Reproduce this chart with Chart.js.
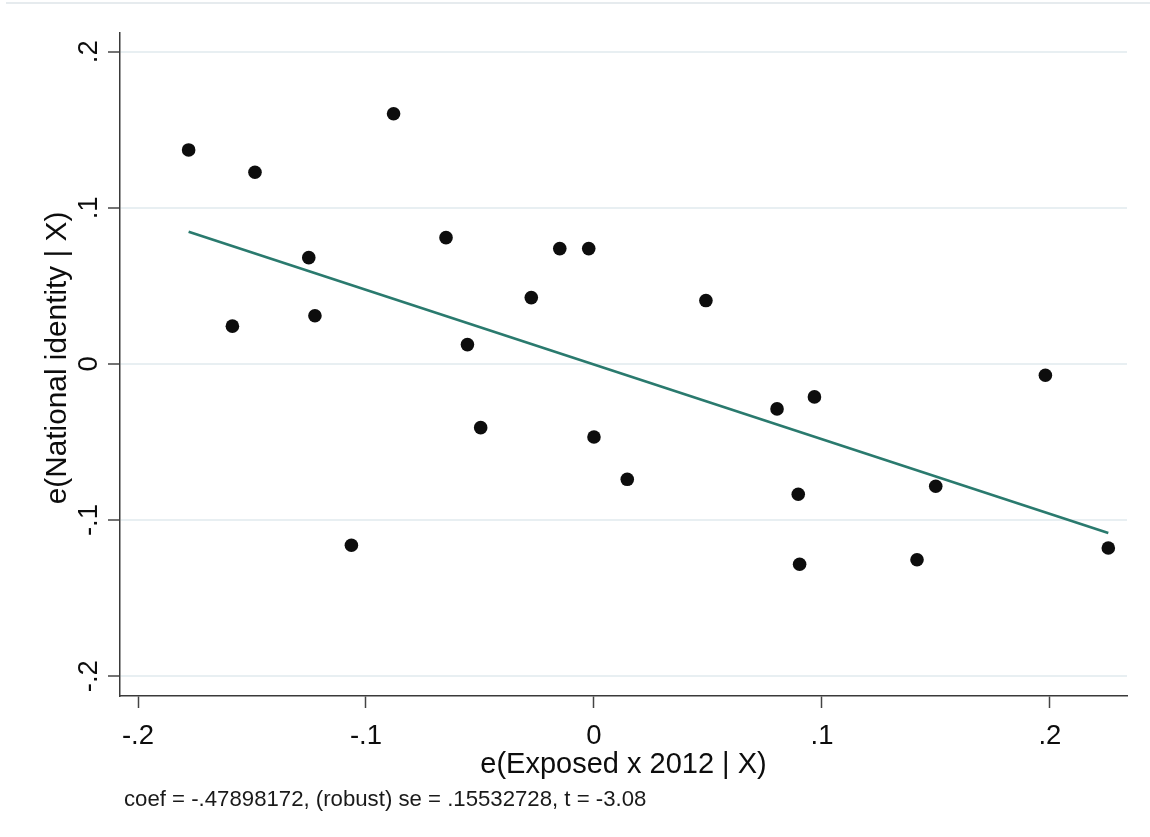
<!DOCTYPE html>
<html>
<head>
<meta charset="utf-8">
<script src="https://cdn.jsdelivr.net/npm/chart.js@4.4.1/dist/chart.umd.min.js"></script>
<style>
  html, body { margin: 0; padding: 0; background: #fff; }
  #wrap { width: 1150px; height: 837px; position: relative; }
</style>
</head>
<body>
<div id="wrap"><canvas id="avplot" width="1150" height="837"></canvas></div>
<script>
// DATA

const exposedResid = [-0.1778, -0.1586, -0.1487, -0.1251, -0.1224, -0.1064, -0.0879, -0.0649,
	-0.0555, -0.0497, -0.0275, -0.0150, -0.0023, 0.0000, 0.0146, 0.0491,
	0.0803, 0.0896, 0.0902, 0.0967, 0.1417, 0.1499, 0.1980, 0.2256];
const identityResid = [0.1371, 0.0242, 0.1228, 0.0681, 0.0309, -0.1161, 0.1603, 0.0809,
	0.0124, -0.0408, 0.0425, 0.0739, 0.0739, -0.0468, -0.0739, 0.0406,
	-0.0288, -0.0835, -0.1283, -0.0211, -0.1254, -0.0783, -0.0072, -0.1179];

// fitted line end points
const fitX = [-0.1778, 0.2256];
const fitY = [0.0847, -0.1083];

const xTicks = [-0.2, -0.1, 0, 0.1, 0.2];
const xTickLabels = ['-.2', '-.1', '0', '.1', '.2'];
const yTicks = [-0.2, -0.1, 0, 0.1, 0.2];
const yTickLabels = ['-.2', '-.1', '0', '.1', '.2'];

const xTitle = 'e(Exposed x 2012 | X)';
const yTitle = 'e(National identity | X)';
const noteText = 'coef = -.47898172, (robust) se = .15532728, t = -3.08';

//==================================
// TEXT DRAWN AROUND THE PLOT
//==================================

const FONT = '"Liberation Sans", Arial, sans-serif';

const stataText = {
	id: 'stataText',
	afterDraw(chart) {
		const ctx = chart.ctx;
		const xs = chart.scales.x;
		const ys = chart.scales.y;
		const area = chart.chartArea;

		ctx.save();

		// faint rule at the very top (page edge)
		ctx.strokeStyle = '#e6ebee';
		ctx.lineWidth = 2;
		ctx.beginPath();
		ctx.moveTo(6, 3);
		ctx.lineTo(1150, 3);
		ctx.stroke();

		ctx.fillStyle = '#0d0d0d';

		// x tick labels
		ctx.font = '27.5px ' + FONT;
		ctx.textAlign = 'center';
		ctx.textBaseline = 'alphabetic';
		xTicks.forEach((v, i) => {
			ctx.fillText(xTickLabels[i], xs.getPixelForValue(v), 744);
		});

		// y tick labels, rotated
		yTicks.forEach((v, i) => {
			ctx.save();
			ctx.translate(97, ys.getPixelForValue(v));
			ctx.rotate(-Math.PI / 2);
			ctx.fillText(yTickLabels[i], 0, 0);
			ctx.restore();
		});

		// axis titles
		ctx.font = '29px ' + FONT;
		ctx.fillText(xTitle, (area.left + area.right) / 2, 773);

		ctx.save();
		ctx.translate(66, 358);
		ctx.rotate(-Math.PI / 2);
		ctx.font = '29.8px ' + FONT;
		ctx.fillText(yTitle, 0, 0);
		ctx.restore();

		// note under the graph
		ctx.font = '22.2px ' + FONT;
		ctx.textAlign = 'left';
		ctx.fillStyle = '#1a1a1a';
		ctx.fillText(noteText, 124, 806);

		ctx.restore();
	}
};

//==================================
// CHART
//==================================

function fixedTicks(values) {
	return function (scale) {
		scale.ticks = values.map(v => ({ value: v }));
	};
}

const scatterPoints = exposedResid.map((x, i) => ({ x: x, y: identityResid[i] }));
const fitPoints = fitX.map((x, i) => ({ x: x, y: fitY[i] }));

const ctx = document.getElementById('avplot').getContext('2d');

new Chart(ctx, {
	type: 'scatter',
	data: {
		datasets: [
			{
				label: 'residuals',
				data: scatterPoints,
				backgroundColor: '#0d0d0d',
				borderWidth: 0,
				pointRadius: 6.8,
				order: 0,
			},
			{
				label: 'fit',
				type: 'line',
				data: fitPoints,
				borderColor: '#2a7a6e',
				borderWidth: 2.6,
				pointRadius: 0,
				fill: false,
				tension: 0,
				order: 1,
			},
		],
	},
	options: {
		responsive: false,
		devicePixelRatio: 1,
		animation: false,
		layout: {
			padding: { left: 108, top: 33, right: 23, bottom: 129 },
		},
		plugins: {
			legend: { display: false },
			tooltip: { enabled: false },
		},
		scales: {
			x: {
				type: 'linear',
				min: -0.2079,
				max: 0.2338,
				afterBuildTicks: fixedTicks(xTicks),
				ticks: { display: false },
				grid: {
					drawOnChartArea: false,
					drawTicks: true,
					tickLength: 12,
					tickColor: '#444',
					tickWidth: 1.5,
				},
				border: { display: true, color: '#3a3a3a', width: 1.5 },
			},
			y: {
				type: 'linear',
				min: -0.2127,
				max: 0.2120,
				afterBuildTicks: fixedTicks(yTicks),
				ticks: { display: false },
				grid: {
					color: '#e8eff2',
					lineWidth: 2,
					drawTicks: true,
					tickLength: 12,
					tickColor: '#444',
					tickWidth: 1.5,
				},
				border: { display: true, color: '#3a3a3a', width: 1.5 },
			},
		},
	},
	plugins: [stataText],
});
</script>
</body>
</html>
